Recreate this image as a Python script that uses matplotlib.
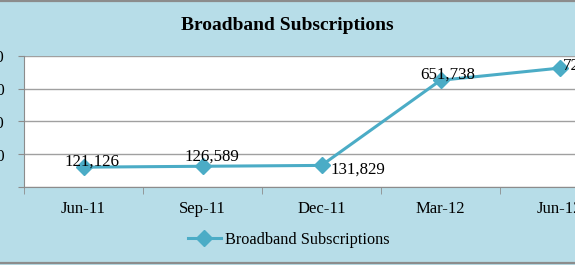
import matplotlib
matplotlib.use("Agg")
import matplotlib.pyplot as plt
from matplotlib.lines import Line2D
from matplotlib.ticker import FuncFormatter, FixedLocator

categories = ["Jun-11", "Sep-11", "Dec-11", "Mar-12", "Jun-12"]
subscriptions = [121126, 126589, 131829, 651738, 726000]
labels = ["121,126", "126,589", "131,829", "651,738", "726,000"]
series_name = "Broadband Subscriptions"

W, H = 575, 265
fig = plt.figure(figsize=(W / 100, H / 100), dpi=100)
bg = "#B7DDE8"
fig.patch.set_facecolor(bg)
serif = ["Liberation Serif", "DejaVu Serif"]

# outer border (top and bottom only visible in the crop)
for yy in [1 - 1 / H, 2 / H]:
    fig.add_artist(Line2D([0, 1], [yy, yy], transform=fig.transFigure,
                          color="#8C8C8C", linewidth=1.6))

left, right, top, bottom = 24, 619, 56, 187
ax = fig.add_axes([left / W, (H - bottom) / H, (right - left) / W, (bottom - top) / H])
ax.set_facecolor("white")
color = "#4BACC6"
x = list(range(len(categories)))
ax.plot(x, subscriptions, color=color, linewidth=2.2, marker="D", markersize=8,
        markerfacecolor=color, markeredgecolor=color, label=series_name, zorder=3,
        clip_on=False)

ax.set_xlim(-0.5, len(categories) - 0.5)
ax.set_ylim(0, 800000)
ax.set_yticks([0, 200000, 400000, 600000, 800000])
ax.yaxis.set_major_formatter(FuncFormatter(lambda v, p: "" if v == 0 else f"{int(v):,}"))
ax.grid(axis="y", color="#A0A0A0", linewidth=1)
ax.set_axisbelow(True)

ax.set_xticks(x)
ax.set_xticklabels(categories, fontfamily=serif, fontsize=12)
ax.xaxis.set_minor_locator(FixedLocator([i - 0.5 for i in range(len(categories) + 1)]))
ax.tick_params(axis="x", which="major", length=0, pad=10)
ax.tick_params(axis="x", which="minor", length=5, color="#8C8C8C")
ax.tick_params(axis="y", length=4, color="#8C8C8C", pad=10, labelsize=12)
for lab in ax.get_yticklabels():
    lab.set_fontfamily(serif)

for s in ["top", "right"]:
    ax.spines[s].set_visible(False)
for s in ["left", "bottom"]:
    ax.spines[s].set_color("#8C8C8C")

offsets = [(6, 4), (6.5, 7), (26, -3), (5, 4), (22, 2)]
for xi, yi, lab, off in zip(x, subscriptions, labels, offsets):
    ax.annotate(lab, (xi, yi), xytext=off, textcoords="offset points", ha="center",
                va="center", fontsize=12.2, fontfamily=serif, color="black", zorder=4)

fig.text(287 / W, 1 - 25 / H, "Broadband Subscriptions", ha="center", va="center",
         fontsize=14, fontweight="bold", fontfamily=serif)

leg = fig.legend(loc="center", bbox_to_anchor=(289 / W, 1 - 240 / H), frameon=False,
                 prop={"family": serif, "size": 11.7}, handlelength=2.0, handletextpad=0.3)

fig.savefig("out.png", dpi=100, facecolor=bg)
